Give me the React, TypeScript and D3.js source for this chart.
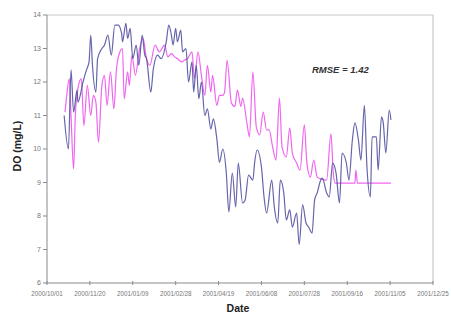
import React from "react";
import * as d3 from "d3";

const observedDates = [
  "2000-10-21","2000-10-26","2000-10-29","2000-11-01","2000-11-05","2000-11-06","2000-11-12","2000-11-16",
  "2000-11-19","2000-11-21","2000-11-23","2000-11-27","2000-11-29","2000-12-04","2000-12-07","2000-12-11",
  "2000-12-15","2000-12-19","2000-12-23","2000-12-27","2000-12-28","2001-01-01","2001-01-03","2001-01-06",
  "2001-01-09","2001-01-13","2001-01-16","2001-01-20","2001-01-23","2001-01-25","2001-01-30","2001-02-02",
  "2001-02-07","2001-02-11","2001-02-17","2001-02-20","2001-02-23","2001-02-25","2001-02-28","2001-03-02",
  "2001-03-06","2001-03-08","2001-03-12","2001-03-15","2001-03-19","2001-03-21","2001-03-24","2001-03-27",
  "2001-03-30","2001-04-03","2001-04-06","2001-04-10","2001-04-13","2001-04-17","2001-04-20","2001-04-24",
  "2001-04-28","2001-05-01","2001-05-05","2001-05-09","2001-05-12","2001-05-17","2001-05-20","2001-05-24",
  "2001-05-29","2001-05-31","2001-06-03","2001-06-08","2001-06-11","2001-06-14","2001-06-20","2001-06-23",
  "2001-06-27","2001-06-30","2001-07-04","2001-07-07","2001-07-11","2001-07-14","2001-07-19","2001-07-22",
  "2001-07-26","2001-07-30","2001-08-02","2001-08-06","2001-08-09","2001-08-12","2001-08-16","2001-08-18",
  "2001-08-23","2001-08-26","2001-08-30","2001-09-03","2001-09-07","2001-09-10","2001-09-15","2001-09-18",
  "2001-09-22","2001-09-25","2001-09-29","2001-10-02","2001-10-06","2001-10-09","2001-10-13","2001-10-15",
  "2001-10-20","2001-10-22","2001-10-26","2001-10-28","2001-10-31","2001-11-04","2001-11-06"
];
const observedValues = [
  11.0,10.0,12.36,11.1,11.76,11.4,12.0,12.36,
  12.6,13.4,12.5,11.7,12.7,13.0,13.1,13.4,
  12.8,13.7,13.7,13.45,13.2,13.75,13.3,13.6,
  12.7,13.1,12.5,13.4,12.8,12.7,11.7,12.4,
  12.8,12.7,13.2,13.7,13.4,13.1,13.6,13.2,
  13.55,12.9,13.0,12.0,12.6,11.7,12.5,11.5,
  12.0,11.0,11.2,10.6,10.9,10.3,9.6,10.0,
  9.3,8.12,9.28,8.27,9.58,8.39,8.48,9.22,
  9.07,9.58,9.97,9.46,8.57,8.09,9.07,8.27,
  7.79,9.07,8.69,7.88,8.18,7.67,8.09,7.15,
  8.33,7.79,7.67,7.49,8.48,8.69,9.07,9.13,
  8.69,8.57,9.58,9.28,8.39,9.88,9.58,9.07,
  10.27,10.78,10.27,9.67,11.3,9.46,8.57,10.36,
  10.36,9.37,10.96,10.78,9.88,11.16,10.87
];

const modelDates = [
  "2000-10-22","2000-10-24","2000-10-27","2000-10-29","2000-11-01","2000-11-03","2000-11-06","2000-11-10",
  "2000-11-13","2000-11-17","2000-11-21","2000-11-24","2000-11-27","2000-11-30","2000-12-04","2000-12-07",
  "2000-12-10","2000-12-14","2000-12-18","2000-12-21","2000-12-25","2000-12-28","2000-12-30","2001-01-03",
  "2001-01-05","2001-01-08","2001-01-12","2001-01-17","2001-01-21","2001-01-25","2001-01-29","2001-02-04",
  "2001-02-09","2001-02-15","2001-02-19","2001-02-23","2001-02-27","2001-03-02","2001-03-07","2001-03-10",
  "2001-03-14","2001-03-19","2001-03-22","2001-03-26","2001-03-30","2001-04-03","2001-04-06","2001-04-10",
  "2001-04-12","2001-04-17","2001-04-20","2001-04-24","2001-04-26","2001-04-29","2001-05-04","2001-05-08",
  "2001-05-11","2001-05-15","2001-05-17","2001-05-22","2001-05-25","2001-05-29","2001-06-02","2001-06-06",
  "2001-06-10","2001-06-14","2001-06-17","2001-06-21","2001-06-25","2001-06-29","2001-07-02","2001-07-07",
  "2001-07-11","2001-07-14","2001-07-19","2001-07-23","2001-07-28","2001-07-31","2001-08-04","2001-08-08",
  "2001-08-12","2001-08-17","2001-08-23","2001-08-28","2001-08-31","2001-09-02",
  "2001-09-25","2001-09-26","2001-09-28","2001-11-06"
];
const modelValues = [
  11.1,11.6,12.1,11.0,9.4,11.0,11.8,12.1,
  10.7,11.9,11.0,11.6,11.4,10.2,11.9,12.2,
  11.3,12.3,11.2,12.4,12.9,13.0,11.5,12.3,
  11.9,12.8,12.2,13.0,13.3,12.7,12.5,13.1,
  12.9,13.1,12.75,12.85,12.75,12.7,12.6,12.65,
  12.7,12.9,12.1,12.9,12.2,11.6,12.5,11.7,
  12.2,11.3,11.6,11.6,11.7,12.65,11.37,11.27,
  11.76,11.27,11.52,10.78,10.36,12.3,10.66,10.42,
  11.1,10.57,10.57,10.06,9.67,11.52,10.06,9.76,
  10.63,9.88,9.58,9.37,10.72,9.58,9.16,9.67,
  9.16,9.1,9.07,10.45,9.2,8.98,
  8.98,9.37,8.98,8.98
];

const yTicks = [6, 7, 8, 9, 10, 11, 12, 13, 14];
const xStart = "2000-10-01";
const xEnd = "2001-12-25";
const xTickStepDays = 50;

const W = 451, H = 318;
const M = { left: 47, right: 433, top: 15, bottom: 283 };
const FONT = "'Liberation Sans', Arial, sans-serif";

export default function App() {
  const parse = d3.timeParse("%Y-%m-%d");
  const x = d3.scaleTime().domain([parse(xStart)!, parse(xEnd)!]).range([M.left, M.right]);
  const y = d3.scaleLinear().domain([6, 14]).range([M.bottom, M.top]);
  const fmt = d3.timeFormat("%Y/%m/%d");
  const xTicks = d3.range(0, 10).map((i) => d3.timeDay.offset(parse(xStart)!, i * xTickStepDays));

  const obs = observedDates.map((d, i) => ({ d: parse(d)!, v: observedValues[i] }));
  const mod = modelDates.map((d, i) => ({ d: parse(d)!, v: modelValues[i] }));
  const line = d3.line<{ d: Date; v: number }>().x((p) => x(p.d)).y((p) => y(p.v)).curve(d3.curveMonotoneX);

  return (
    <svg width={W} height={H} style={{ position: "absolute", left: 0, top: 0, background: "#fff" }} fontFamily={FONT}>
      <rect x={0} y={0} width={W} height={H} fill="#fff" />
      <line x1={M.left} x2={M.right} y1={M.top} y2={M.top} stroke="#c8c8c8" strokeWidth={1.2} />
      <line x1={M.right} x2={M.right} y1={M.top} y2={M.bottom} stroke="#c8c8c8" strokeWidth={1.2} />
      <path d={line(mod) || ""} fill="none" stroke="#ee55ee" strokeWidth={1.2} strokeOpacity={0.9} />
      <path d={line(obs) || ""} fill="none" stroke="#4a4a9c" strokeWidth={1.2} strokeOpacity={0.85} />
      <line x1={M.left} x2={M.left} y1={M.top} y2={M.bottom} stroke="#8a8a8a" strokeWidth={1} />
      <line x1={M.left} x2={M.right} y1={M.bottom} y2={M.bottom} stroke="#8a8a8a" strokeWidth={1} />
      {yTicks.map((t) => (
        <g key={t}>
          <line x1={M.left - 4} x2={M.left} y1={y(t)} y2={y(t)} stroke="#8a8a8a" />
          <text x={M.left - 6} y={y(t)} dy="0.35em" textAnchor="end" fontSize={7} fill="#777">{t}</text>
        </g>
      ))}
      {xTicks.map((t, i) => (
        <g key={i}>
          <line x1={x(t)} x2={x(t)} y1={M.bottom - 2} y2={M.bottom + 2} stroke="#8a8a8a" />
          <text x={x(t)} y={M.bottom + 13} textAnchor="middle" fontSize={6.3} fill="#777">{fmt(t)}</text>
        </g>
      ))}
      <text x={238} y={312} textAnchor="middle" fontSize={10.5} fontWeight="bold" fill="#222">Date</text>
      <text transform={`translate(21,146) rotate(-90)`} textAnchor="middle" fontSize={10.5} fontWeight="bold" fill="#222">DO (mg/L)</text>
      <text x={312} y={73} fontSize={9.5} fontWeight="bold" fontStyle="italic" fill="#333">RMSE = 1.42</text>
    </svg>
  );
}
